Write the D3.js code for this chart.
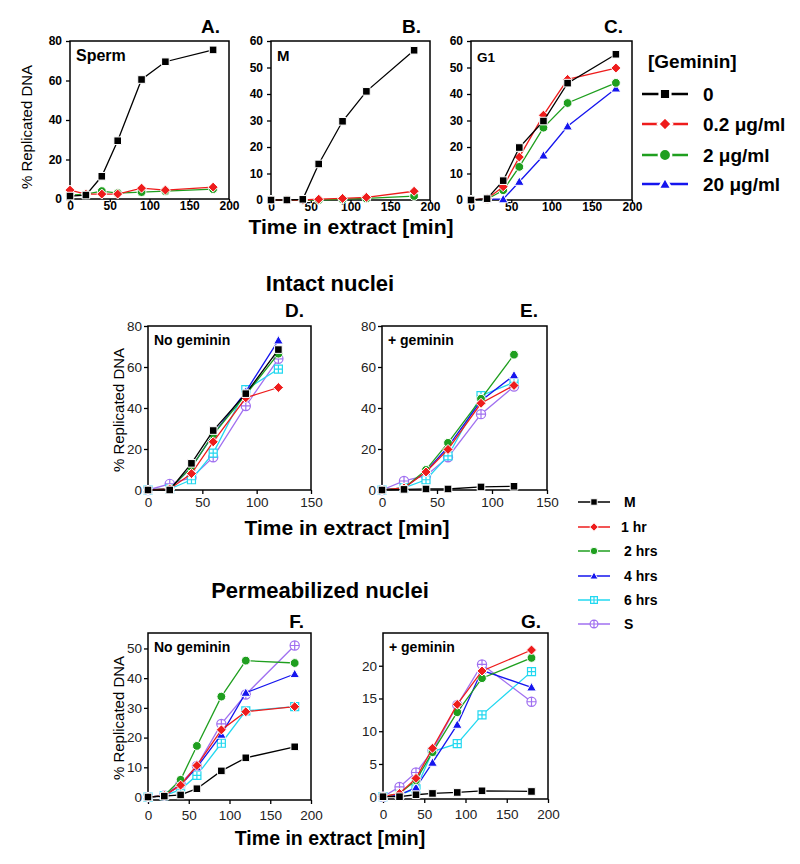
<!DOCTYPE html>
<html><head><meta charset="utf-8">
<script src="https://cdn.jsdelivr.net/npm/d3@7"></script>
<style>body{margin:0;background:#fff} svg{display:block;font-family:Arial,"Liberation Sans",sans-serif}</style>
</head><body><svg id="c" width="800" height="864"></svg>
<script>
// ---------- DATA ----------
const timeTop = [0, 20, 40, 60, 90, 120, 180];
const gemininLabels = ["0", "0.2 \u03bcg/ml", "2 \u03bcg/ml", "20 \u03bcg/ml"];
// Panel A (Sperm)
const spermG0  = [1.5, 2, 11.5, 29.5, 60.5, 69.5, 75.5];
const spermG02 = [4.5, 2.5, 2.5, 2.5, 5.5, 4.5, 6];
const spermG2  = [2, 2.5, 4, 3, 3.5, 4, 5];
// Panel B (M)
const mG0  = [0, 0, 0.25, 13.6, 29.7, 41, 56.5];
const mG02 = [0, 0, 0, 0.3, 0.6, 1, 3.3];
const mG2  = [0, 0, 0, 0, 0.3, 0.6, 1.5];
// Panel C (G1)
const g1G0  = [0, 0.5, 7.3, 19.8, 29.8, 44.1, 55];
const g1G02 = [0, 0.5, 5, 16.2, 32, 45.5, 49.8];
const g1G2  = [0, 0.3, 3.7, 12.5, 27.3, 36.6, 44.2];
const g1G20 = [0, 0.3, 0.3, 6.9, 16.8, 27.8, 42.1];

const timeIntact = [0, 20, 40, 60, 90, 120];
const timePerm = [0, 20, 40, 60, 90, 120, 180];
const stageLabels = ["M", "1 hr", "2 hrs", "4 hrs", "6 hrs", "S"];
// Panel D (intact, no geminin)
const dM  = [0, 0, 13, 29, 47, 68.5];
const d1h = [0, 0.5, 8, 23.5, 45, 50];
const d2h = [0, 0.5, 11, 27, 46.5, 66.5];
const d4h = [0, 0.5, 11, 27, 48, 73];
const d6h = [0, 0.5, 5, 18, 49, 59];
const dS  = [0, 3, 6, 16, 41, 64];
// Panel E (intact, + geminin)
const eM  = [0, 0.3, 0.5, 0.5, 1.5, 1.8];
const e1h = [0, 1, 8.8, 19.8, 42.3, 51];
const e2h = [0, 1, 9.8, 23, 44.5, 66];
const e4h = [0, 1, 9, 21, 43.5, 56];
const e6h = [0, 1, 5, 16.6, 46, 52.5];
const eS  = [0, 4.4, 7, 16, 37, 50.5];
// Panel F (permeabilized, no geminin)
const fM  = [0, 0.3, 0.7, 2.8, 8.8, 13.2, 16.9];
const f1h = [0, 0.5, 4, 10.6, 22.6, 28.7, 30.4];
const f2h = [0, 0.5, 5.8, 17.2, 33.8, 45.9, 45.1];
const f4h = [0, 0.5, 4, 10, 21, 35.1, 41.4];
const f6h = [0, 0.5, 2.5, 7.3, 18.1, 29, 30.4];
const fS  = [0, 0.5, 4.5, 10.5, 24.6, 34.5, 51];
// Panel G (permeabilized, + geminin)
const gM  = [0, 0, 0.3, 0.5, 0.65, 0.9, 0.8];
const g1h = [0, 0.5, 2.8, 7.4, 14.1, 19.2, 22.4];
const g2h = [0, 0.5, 2.5, 6.8, 12.9, 18.1, 21.2];
const g4h = [0, 0.3, 1.4, 5.2, 11, 19.3, 16.7];
const g6h = [0, 0.3, 1.2, 6.9, 8.1, 12.5, 19.1];
const gS  = [0, 1.5, 3.7, 7, 14, 20.2, 14.5];

// tick values
const ticksY80 = [0, 20, 40, 60, 80];
const ticksY60 = [0, 10, 20, 30, 40, 50, 60];
const ticksY50 = [0, 10, 20, 30, 40, 50];
const ticksY20 = [0, 5, 10, 15, 20];
const ticksT200 = [0, 50, 100, 150, 200];
const ticksT150 = [0, 50, 100, 150];

// ---------- STYLES ----------
const topStyles = [
  {color: "#000000", shape: "square"},
  {color: "#ee1c1c", shape: "diamond"},
  {color: "#1f9f1f", shape: "circle"},
  {color: "#1515ee", shape: "triangle"}
];
const stageStyles = [
  {color: "#000000", shape: "square"},
  {color: "#ee1c1c", shape: "diamond"},
  {color: "#1f9f1f", shape: "circle"},
  {color: "#1515ee", shape: "triangle"},
  {color: "#22d8f0", shape: "xsquare"},
  {color: "#a070f0", shape: "xcircle"}
];

const svg = d3.select("#c");
const FONT = "Arial, 'Liberation Sans', sans-serif";

function markerPath(shape, s) {
  switch (shape) {
    case "square": return `M${-s},${-s}H${s}V${s}H${-s}Z`;
    case "diamond": return `M0,${-s}L${s},0L0,${s}L${-s},0Z`;
    case "triangle": return `M0,${-s}L${s},${s*0.75}L${-s},${s*0.75}Z`;
    case "circle": return `M${s},0A${s},${s} 0 1,1 ${-s},0A${s},${s} 0 1,1 ${s},0Z`;
    case "xsquare": return `M${-s},${-s}H${s}V${s}H${-s}ZM${-s},0H${s}M0,${-s}V${s}`;
    case "xcircle": return `M${s},0A${s},${s} 0 1,1 ${-s},0A${s},${s} 0 1,1 ${s},0ZM${-s},0H${s}M0,${-s}V${s}`;
  }
}
const markerSize = {square: 3.8, diamond: 5, circle: 4.4, triangle: 4.8, xsquare: 4, xcircle: 4.6};

function drawMarker(g, x, y, st, scale) {
  const s = markerSize[st.shape] * scale;
  const open = st.shape === "xsquare" || st.shape === "xcircle";
  g.append("path").attr("transform", `translate(${x},${y})`)
    .attr("d", markerPath(st.shape, s))
    .attr("fill", open ? "#fff" : st.color)
    .attr("stroke", open ? st.color : "#fff")
    .attr("stroke-width", open ? 1.2 : 1);
}

function drawPanel(p) {
  const x = d3.scaleLinear().domain(p.xd).range([p.l, p.r]);
  const y = d3.scaleLinear().domain(p.yd).range([p.b, p.t]);
  const g = svg.append("g");
  // axes
  const ax = g.append("g").attr("transform", `translate(0,${p.b})`)
    .call(d3.axisBottom(x).tickValues(p.xt).tickSize(p.xts).tickPadding(p.xpad).tickFormat(d3.format("d")));
  const ay = g.append("g").attr("transform", `translate(${p.l},0)`)
    .call(d3.axisLeft(y).tickValues(p.yt).tickSize(4).tickPadding(p.ypad).tickFormat(d3.format("d")));
  [ax, ay].forEach(a => {
    a.select(".domain").remove();
    a.selectAll("line").attr("stroke", "#000").attr("stroke-width", 1.3);
    a.selectAll("text").attr("font-family", FONT).attr("font-size", p.tfs)
      .attr("font-weight", p.tfw).attr("fill", p.tcol);
  });
  // frame
  g.append("rect").attr("x", p.l).attr("y", p.t).attr("width", p.r - p.l).attr("height", p.b - p.t)
    .attr("fill", "none").attr("stroke", "#000").attr("stroke-width", 1.5);
  // series (drawn last-to-first so the first is on top)
  const line = d3.line().x(d => x(d[0])).y(d => y(d[1]));
  for (let i = p.series.length - 1; i >= 0; i--) {
    const se = p.series[i];
    if (!se) continue;
    const st = p.styles[i];
    const pts = p.times.map((t, k) => [t, se[k]]);
    g.append("path").attr("d", line(pts)).attr("fill", "none")
      .attr("stroke", st.color).attr("stroke-width", 1.3);
    pts.forEach(d => drawMarker(g, x(d[0]), y(d[1]), st, p.ms));
  }
  // labels
  g.append("text").attr("x", p.l + 6).attr("y", p.t + p.lblDy).text(p.label)
    .attr("font-family", FONT).attr("font-weight", "bold").attr("font-size", p.lblFs);
  g.append("text").attr("x", p.r - p.letterInset).attr("y", p.t - p.letterDy).attr("text-anchor", "end")
    .text(p.letter).attr("font-family", FONT).attr("font-weight", "bold").attr("font-size", 19);
}

const topCommon = {times: timeTop, xd: [0, 200], xt: ticksT200, styles: topStyles, t: 41,
  xts: 3, xpad: -1, ypad: 4, tfs: 12, tfw: "bold", tcol: "#000", ms: 1, lblDy: 20, letterDy: 8};
drawPanel(Object.assign({}, topCommon, {l: 70, r: 229, b: 199, yd: [0, 80], yt: ticksY80,
  series: [spermG0, spermG02, spermG2], label: "Sperm", lblFs: 16, letter: "A.", letterInset: 9}));
drawPanel(Object.assign({}, topCommon, {l: 271, r: 430, b: 200, yd: [0, 60], yt: ticksY60,
  series: [mG0, mG02, mG2], label: "M", lblFs: 15, letter: "B.", letterInset: 9}));
drawPanel(Object.assign({}, topCommon, {l: 471, r: 632, b: 200, yd: [0, 60], yt: ticksY60,
  series: [g1G0, g1G02, g1G2, g1G20], label: "G1", lblFs: 13.5, letter: "C.", letterInset: 9, lblDy: 21}));

const lowCommon = {styles: stageStyles, xts: 4, xpad: 3, ypad: 2, tfs: 13.5, tfw: "normal", tcol: "#222",
  ms: 1, lblDy: 19, lblFs: 14, letterDy: 9, letterInset: 7};
drawPanel(Object.assign({}, lowCommon, {l: 148, r: 311, t: 326, b: 490, times: timeIntact,
  xd: [0, 150], xt: ticksT150, yd: [0, 80], yt: ticksY80,
  series: [dM, d1h, d2h, d4h, d6h, dS], label: "No geminin", letter: "D."}));
drawPanel(Object.assign({}, lowCommon, {l: 382, r: 547, t: 326, b: 490, times: timeIntact,
  xd: [0, 150], xt: ticksT150, yd: [0, 80], yt: ticksY80,
  series: [eM, e1h, e2h, e4h, e6h, eS], label: "+ geminin", letter: "E.", letterInset: 9}));
drawPanel(Object.assign({}, lowCommon, {l: 148, r: 311, t: 633, b: 800, times: timePerm,
  xd: [0, 200], xt: ticksT200, yd: [-1, 55.2], yt: ticksY50, xpad: 6,
  series: [fM, f1h, f2h, f4h, f6h, fS], label: "No geminin", letter: "F.", letterDy: 5}));
drawPanel(Object.assign({}, lowCommon, {l: 383, r: 548, t: 633, b: 799, times: timePerm,
  xd: [0, 200], xt: ticksT200, yd: [-0.35, 25], yt: ticksY20, xpad: 6,
  series: [gM, g1h, g2h, g4h, g6h, gS], label: "+ geminin", letter: "G.", letterDy: 5}));

// ---------- titles ----------
function txt(x, y, s, fs, w, anchor, rot) {
  const t = svg.append("text").attr("x", x).attr("y", y).text(s)
    .attr("font-family", FONT).attr("font-size", fs).attr("font-weight", w)
    .attr("text-anchor", anchor || "middle");
  if (rot) t.attr("transform", `rotate(-90,${x},${y})`);
  return t;
}
txt(351, 234, "Time in extract [min]", 21, "bold");
txt(347, 535, "Time in extract [min]", 21, "bold");
txt(330, 845, "Time in extract [min]", 19.5, "bold");
txt(330, 291, "Intact nuclei", 22, "bold");
txt(320, 598, "Permeabilized nuclei", 22, "bold");
txt(32, 127, "% Replicated DNA", 15, "normal", "middle", true);
txt(124, 410, "% Replicated DNA", 15, "normal", "middle", true);
txt(124, 718, "% Replicated DNA", 15, "normal", "middle", true);

// ---------- legends ----------
txt(648, 68, "[Geminin]", 19, "bold", "start");
const legTopY = [94, 124, 155, 184];
gemininLabels.forEach((lab, i) => {
  const st = topStyles[i];
  svg.append("line").attr("x1", 642).attr("x2", 688).attr("y1", legTopY[i]).attr("y2", legTopY[i])
    .attr("stroke", st.color).attr("stroke-width", 2.5);
  const s = markerSize[st.shape] * 1.4;
  svg.append("path").attr("transform", `translate(665,${legTopY[i]})`).attr("d", markerPath(st.shape, s))
    .attr("fill", st.color).attr("stroke", "#fff").attr("stroke-width", 2.5);
  txt(703, legTopY[i] + 7, lab, 19, "bold", "start");
});
const legMidY = [502, 527, 551, 576, 600, 624];
stageLabels.forEach((lab, i) => {
  const st = stageStyles[i];
  svg.append("line").attr("x1", 578).attr("x2", 610).attr("y1", legMidY[i]).attr("y2", legMidY[i])
    .attr("stroke", st.color).attr("stroke-width", 1.5);
  const g = svg.append("g");
  drawMarker(g, 594, legMidY[i], st, 0.85);
  txt(i === 1 ? 621 : 624, legMidY[i] + 5, lab, 14, "bold", "start");
});
</script></body></html>
